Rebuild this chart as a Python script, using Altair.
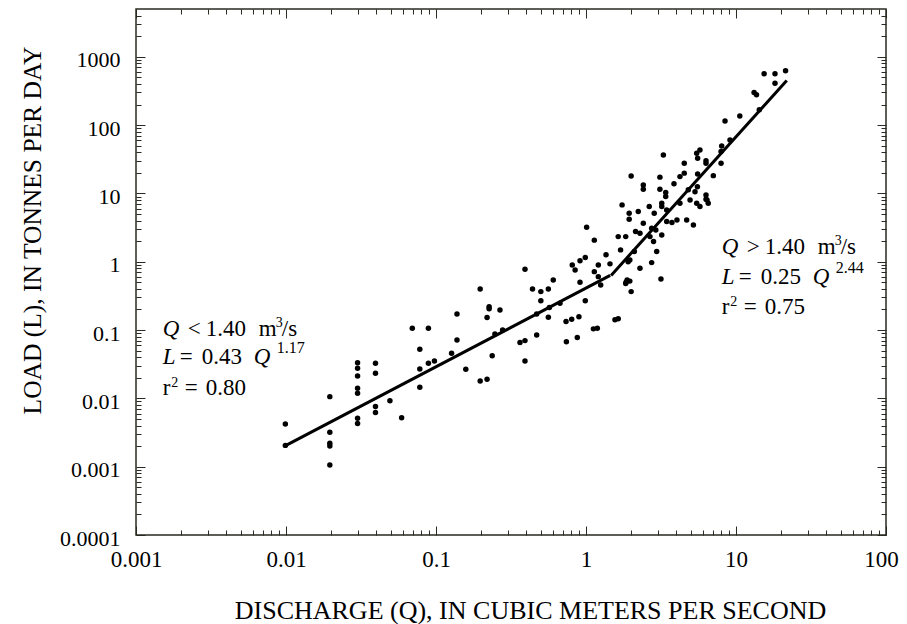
import altair as alt
import pandas as pd

# ---------------- data ----------------
discharge = [
    0.0099, 0.0099, 0.0196, 0.0196, 0.0196, 0.0196, 0.0196,
    0.030, 0.030, 0.030, 0.030, 0.030, 0.030, 0.030,
    0.0395, 0.0395, 0.0395, 0.0395, 0.0493, 0.059,
    0.0695, 0.089, 0.078, 0.078, 0.078, 0.089, 0.0976, 0.127, 0.138, 0.138,
    0.158, 0.197, 0.197, 0.219, 0.226, 0.226, 0.267, 0.219, 0.237, 0.247,
    0.278, 0.392, 0.392, 0.392, 0.363, 0.44, 0.469, 0.469, 0.50, 0.50,
    0.561, 0.561, 0.57, 0.605, 0.671, 0.736, 0.803, 0.897, 0.74, 0.875,
    0.81, 0.846, 0.912, 0.989, 0.912, 0.989, 1.01, 1.136, 1.136, 1.208,
    1.253, 1.208, 1.36, 1.445, 1.12, 1.19, 1.56, 1.64, 1.64, 1.84,
    1.70, 1.74, 1.85, 1.96, 1.94, 1.94,
    2.23, 2.64, 2.85, 3.2, 3.2, 3.45, 4.23, 4.94, 5.47, 6.53, 5.75, 6.41,
    2.41, 2.74, 2.92, 2.29, 2.14, 3.45, 3.74, 4.04, 4.69, 5.2,
    2.67, 2.82, 3.2, 2.1, 2.96, 1.91, 2.29, 2.74, 3.16, 1.88, 1.96, 1.84, 2.0,
    15.4, 18.2, 21.4, 18.2, 13.2, 13.7, 14.3, 8.45, 10.6, 9.12, 8.03, 7.95, 7.95, 7.06,
    5.75, 5.47, 5.55, 6.31, 6.31, 6.31, 5.55, 4.52, 4.52, 3.28, 4.23, 2.0, 3.11,
    2.41, 2.41, 3.11, 3.4, 3.4, 3.86, 4.81, 5.33, 5.53, 6.31,
]
load = [
    0.0042, 0.00205, 0.0106, 0.0032, 0.0022, 0.0020, 0.00106,
    0.0333, 0.0275, 0.0213, 0.0141, 0.0119, 0.0051, 0.0043,
    0.0327, 0.0233, 0.0076, 0.0062, 0.00925, 0.0052,
    0.106, 0.106, 0.0524, 0.0269, 0.0145, 0.0327, 0.0353, 0.0457, 0.172, 0.0716,
    0.0267, 0.40, 0.018, 0.019, 0.22, 0.205, 0.197, 0.152, 0.042, 0.0877,
    0.10, 0.776, 0.07, 0.0353, 0.0655, 0.40, 0.172, 0.0847, 0.365, 0.269,
    0.40, 0.154, 0.213, 0.542, 0.247, 0.133, 0.144, 0.157, 0.0676, 0.078,
    0.898, 0.759, 1.03, 1.15, 0.501, 0.269, 3.2, 2.07, 0.716, 0.605,
    0.457, 0.898, 1.26, 0.93, 0.104, 0.106, 0.141, 0.146, 2.33, 2.33,
    1.49, 6.79, 0.50, 1.06, 5.13, 4.19,
    5.42, 6.41, 5.13, 7.19, 6.41, 5.73, 7.19, 8.03, 7.19, 7.19, 6.41, 8.03,
    3.66, 3.09, 2.92, 2.61, 2.77, 3.87, 3.74, 4.09, 4.09, 3.46,
    2.33, 1.97, 2.47, 1.41, 1.41, 1.0, 0.80, 0.97, 0.56, 0.54, 0.52, 0.48, 0.365,
    562, 562, 622, 410, 299, 277, 167, 115, 136, 60.7, 49.5, 40.9, 27.7, 18.2,
    43.3, 38.7, 32.7, 30, 27.7, 9.5, 19.3, 27.7, 19.8, 36.6, 17.6, 18.0, 17.3,
    13.3, 11.5, 11.5, 10.3, 9.0, 13.8, 11.3, 10.6, 12.5, 8.2,
]
assert len(discharge) == len(load)

# regression lines (end points)
fit_segment = ["low", "low", "high", "high"]
fit_q = [0.01, 1.45, 1.47, 21.8]
fit_l = [0.00205, 0.63, 0.63, 450]

# annotation anchors (data coordinates) and texts
left_q = 0.00151
left_rows_l = [0.103, 0.0397, 0.01397]
right_q = 8.03
right_rows_l = [1.664, 0.589, 0.214]
left_texts = [["Q", "<", "1.40", "m", "3", "/s"],
              ["L", "=", "0.43", "Q", "1.17"],
              ["r", "2", "=", "0.80"]]
right_texts = [["Q", ">", "1.40", "m", "3", "/s"],
               ["L", "=", "0.25", "Q", "2.44"],
               ["r", "2", "=", "0.75"]]

x_major = [0.001, 0.01, 0.1, 1, 10, 100]
y_major = [0.0001, 0.001, 0.01, 0.1, 1, 10, 100, 1000]
x_minor = [float(f"{m}e{k}") for k in range(-3, 2) for m in range(2, 10)]
y_minor = [float(f"{m}e{k}") for k in range(-4, 4) for m in range(2, 10)
           if float(f"{m}e{k}") < 5000]

# ---------------- styling ----------------
FONT = "Liberation Serif"
INK = "#2a2a22"
MAJ, MIN = 9, 5

xs = alt.Scale(type="log", domain=[0.001, 100], nice=False)
ys = alt.Scale(type="log", domain=[0.0001, 5000], nice=False)


def tick_axis(orient, values, size, **kw):
    base = dict(orient=orient, values=values, tickSize=size, offset=-size,
                domain=False, grid=False, ticks=True, tickColor=INK,
                tickWidth=1, labels=False, title=None)
    base.update(kw)
    return alt.Axis(**base)


bottom_major = tick_axis(
    "bottom", x_major, MAJ, labels=True, format="~g", labelFont=FONT,
    labelFontSize=23, labelColor="black", labelPadding=13, labelFlush=False,
    labelOverlap=False, labelBound=False,
    labelOffset={"condition": {"test": "datum.value >= 100", "value": -5},
                 "value": 0},
    title="DISCHARGE (Q), IN CUBIC METERS PER SECOND", titleFont=FONT,
    titleFontSize=26, titleFontWeight="normal", titleColor="black",
    titleX=394, titleY=84, titleBaseline="middle", titleAlign="center")
left_major = tick_axis(
    "left", y_major, MAJ, labels=True, format="~g", labelFont=FONT,
    labelFontSize=22, labelColor="black", labelPadding=16, labelFlush=False,
    labelOverlap=False, labelBound=False, labelOffset=3,
    title="LOAD (L), IN TONNES PER DAY", titleFont=FONT, titleFontSize=25.5,
    titleFontWeight="normal", titleColor="black", titleX=-113, titleY=221,
    titleBaseline="middle", titleAlign="center", titleAngle=270)
bottom_minor = tick_axis("bottom", x_minor, MIN)
left_minor = tick_axis("left", y_minor, MIN)
top_major = tick_axis("top", x_major, MAJ)
top_minor = tick_axis("top", x_minor, MIN)
right_major = tick_axis("right", y_major, MAJ)
right_minor = tick_axis("right", y_minor, MIN)

points_df = pd.DataFrame({"Q": discharge, "L": load})
fit_df = pd.DataFrame({"Q": fit_q, "L": fit_l, "seg": fit_segment})

points = alt.Chart(points_df).mark_circle(size=30, color="black", opacity=1).encode(
    x=alt.X("Q:Q", scale=xs, axis=bottom_major),
    y=alt.Y("L:Q", scale=ys, axis=left_major),
)
fit = alt.Chart(fit_df).mark_line(color="black", strokeWidth=3).encode(
    x=alt.X("Q:Q", scale=xs, axis=bottom_minor),
    y=alt.Y("L:Q", scale=ys, axis=left_minor),
    detail="seg:N",
)

# segment layout: (dx, dy, fontSize, italic) per piece of each row
BIG, SUP1, SUP2 = 23, 14, 16
row_layout = [
    [(0, 0, BIG, True), (25, 0, BIG, False), (43, 0, BIG, False),
     (96, 0, BIG, False), (113, -6, SUP1, False), (119, 0, BIG, False)],
    [(0, 0, BIG, True), (17, 0, BIG, False), (39, 0, BIG, False),
     (91, 0, BIG, True), (114, -9, SUP2, False)],
    [(0, 0, BIG, False), (8.5, -5, SUP1, False), (22, 0, BIG, False),
     (43, 0, BIG, False)],
]

extra_axes = [(top_major, right_major), (top_minor, right_minor)]
text_layers = []
for anchor_q, rows_l, texts in [(left_q, left_rows_l, left_texts),
                                (right_q, right_rows_l, right_texts)]:
    for r, (row_l, row_txt) in enumerate(zip(rows_l, texts)):
        for (dx, dy, fs, it), piece in zip(row_layout[r], row_txt):
            if extra_axes:
                ax_x, ax_y = extra_axes.pop(0)
            else:
                ax_x, ax_y = None, None
            df = pd.DataFrame({"Q": [anchor_q], "L": [row_l], "t": [piece]})
            mk = dict(align="left", baseline="middle", dx=dx, dy=dy,
                      fontSize=fs, font=FONT, color="black")
            if it:
                mk["fontStyle"] = "italic"
            text_layers.append(
                alt.Chart(df).mark_text(**mk).encode(
                    x=alt.X("Q:Q", scale=xs, axis=ax_x),
                    y=alt.Y("L:Q", scale=ys, axis=ax_y),
                    text="t:N",
                )
            )

chart = alt.layer(points, fit, *text_layers).resolve_axis(
    x="independent", y="independent"
).properties(
    width=750, height=526,
    autosize=alt.AutoSizeParams(type="none"),
    padding={"left": 128, "top": 1, "right": 13, "bottom": 89},
    background="white",
).configure_view(stroke=INK, strokeWidth=1.5).configure_axis(grid=False)

chart.save("out.html", embed_options={"renderer": "svg", "actions": False})
